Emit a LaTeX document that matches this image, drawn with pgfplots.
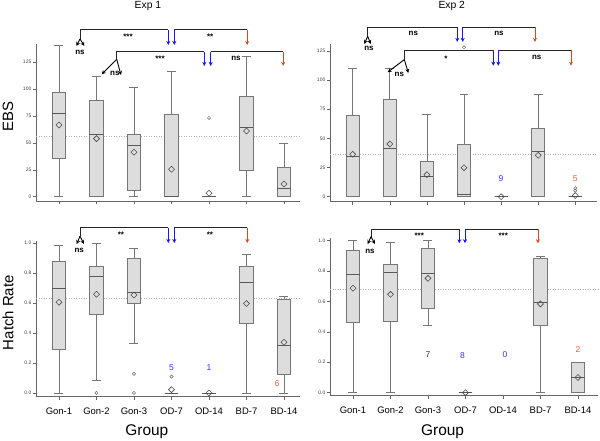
\documentclass[border=0pt]{standalone}
\usepackage{fontspec}
\setmainfont{Liberation Sans}
\usepackage{pgfplots}
\pgfplotsset{compat=1.18}
\usepgfplotslibrary{statistics}
\usetikzlibrary{arrows.meta}

\definecolor{boxfill}{RGB}{221,221,221}
\definecolor{boxline}{RGB}{118,118,118}
\definecolor{sigblue}{RGB}{20,20,255}
\definecolor{sigred}{RGB}{220,70,25}
\definecolor{numblue}{RGB}{50,50,255}
\definecolor{numred}{RGB}{235,90,50}

% box: position, lower whisker, lower quartile, median, upper quartile, upper whisker
\newcommand{\bx}[6]{\addplot[bxs, boxplot prepared={draw direction=y, draw position=#1,
  lower whisker=#2, lower quartile=#3, median=#4, upper quartile=#5, upper whisker=#6}]
  coordinates {};}

\pgfplotsset{
  panel/.style={
    scale only axis, clip=false,
    axis x line=bottom, axis y line=left,
    axis line style={-, black!60, line width=0.7bp},
    xtick={1,...,7}, xticklabels={{},{},{},{},{},{},{}},
    tick align=outside, major tick length=3bp,
    tick style={black!60, line width=0.6bp},
    yticklabel style={font=\fontsize{5}{6}\selectfont, black!75, inner sep=1.5bp},
    /pgf/number format/assume math mode=true,
    ylabel style={font=\fontsize{15}{18}\selectfont, at={(axis description cs:-0.106,0.54)}, anchor=center},
    boxplot/box extend=0.355, boxplot/whisker extend=0.24,
    boxplot/every box/.style={draw=boxline, fill=boxfill, line width=0.75bp},
    boxplot/every whisker/.style={draw=boxline, line width=0.7bp},
    boxplot/every median/.style={draw=black!65, line width=0.7bp},
  },
  bottompanel/.style={
    xticklabels={Gon-1,Gon-2,Gon-3,OD-7,OD-14,BD-7,BD-14},
    xticklabel style={font=\fontsize{9.5}{11}\selectfont, yshift=-5bp},
    xlabel={Group},
    xlabel style={font=\fontsize{15.5}{18}\selectfont, at={(axis description cs:0.42,-0.227)}, anchor=center},
    ytick={0,0.2,0.4,0.6,0.8,1},
    yticklabel style={/pgf/number format/fixed, /pgf/number format/fixed zerofill, /pgf/number format/precision=1},
  },
  bxs/.style={draw=boxline, line width=0.7bp, mark=none},
  means/.style={only marks, mark=square, mark size=2.1bp,
    mark options={rotate=45, draw=black!70, fill=none, line width=0.6bp}},
  outl/.style={only marks, mark=o, mark size=1.6bp, mark options={draw=black!60, line width=0.5bp}},
  refline/.style={black!30, dash pattern=on 0.7bp off 1.8bp, line width=0.5bp},
}
\tikzset{
  sig/.style={line width=0.9bp, black!85},
  arr/.style={-{Stealth[length=4bp,width=4bp]}, line width=0.9bp},
  lab/.style={font=\bfseries\fontsize{8}{9.6}\selectfont, inner sep=0},
  num/.style={font=\fontsize{8.5}{10}\selectfont, inner sep=0},
  ttl/.style={font=\fontsize{10.4}{12}\selectfont, inner sep=0},
}

\begin{document}
\begin{tikzpicture}
\path[use as bounding box] (0,0) rectangle (600bp,441bp);

% ---------------- EBS, Exp 1
\begin{axis}[panel, at={(36bp,240bp)}, anchor=south west,
  width=264bp, height=157bp,
  xmin=0.387, xmax=7.427, ymin=-4, ymax=142,
  ytick={0,25,...,125}, ylabel={EBS}]
\addplot[refline] coordinates {(0.387,56.5) (7.427,56.5)};
\bx{1}{0}{36}{77.9}{97.1}{140.5}
\bx{2}{0}{0}{58.3}{89.3}{112}
\bx{3}{0}{5.6}{48.1}{57.7}{101.8}
\bx{4}{0}{0}{0}{76.7}{116.3}
\bx{5}{0}{0}{0}{0}{0}
\bx{6}{0}{24.6}{64.8}{93}{130.2}
\bx{7}{0}{0}{7.4}{27.3}{49.7}
\addplot[outl] coordinates {(5,73.2)};
\addplot[means] coordinates {(1,66.7) (2,54) (3,41.3) (4,25.5) (5,3.2) (6,61.1) (7,11.8)};
\node[ttl] at (axis description cs:0.424,1.242) {Exp 1};
% Gon-1 vs OD-7, OD-7 vs BD-7
\draw[sig] (1.56,146.7) -- (1.56,155.1) -- (3.915,155.1);
\draw[arr, black] (1.56,146.7) -- (1.467,140.2);
\draw[arr, black] (1.56,146.7) -- (1.675,140.2);
\draw[arr, sigblue] (3.915,155.1) -- (3.915,141.1);
\draw[sig] (4.075,155.1) -- (6.02,155.1);
\draw[arr, sigblue] (4.075,155.1) -- (4.075,141.1);
\draw[arr, sigred] (6.02,155.1) -- (6.02,141.1);
\node[lab] at (1.56,134.3) {ns};
\node[lab] at (2.84,148.5) {***};
\node[lab] at (5.03,148.5) {**};
% Gon-2 vs OD-14, OD-14 vs BD-14
\draw[sig] (2.539,127.8) -- (2.539,134.9) -- (4.875,134.9);
\draw[arr, black] (2.539,127.8) -- (2.139,113.9);
\draw[arr, black] (2.539,127.8) -- (2.653,113.2);
\draw[arr, sigblue] (4.875,134.9) -- (4.875,121.6);
\draw[sig] (5.045,134.9) -- (6.98,134.9);
\draw[arr, sigblue] (5.045,134.9) -- (5.045,121.6);
\draw[arr, sigred] (6.98,134.9) -- (6.98,121.6);
\node[lab] at (2.49,114.8) {ns};
\node[lab] at (3.693,128.4) {***};
\node[lab] at (5.72,128.7) {ns};
\end{axis}

% ---------------- EBS, Exp 2
\begin{axis}[panel, at={(330bp,239.3bp)}, anchor=south west,
  width=267bp, height=157.7bp,
  xmin=0.388, xmax=7.585, ymin=-4.3, ymax=131,
  ytick={0,25,...,125}]
\addplot[refline] coordinates {(0.388,36.4) (7.585,36.4)};
\bx{1}{0}{0}{34.3}{69.5}{110.2}
\bx{2}{0}{0}{41.8}{83.6}{110.2}
\bx{3}{0}{0}{17.2}{30}{70.4}
\bx{4}{0}{0}{2.3}{45.2}{88.1}
\bx{5}{0}{0}{0}{0}{0}
\bx{6}{0}{0}{39}{59}{88.1}
\bx{7}{0}{0}{0}{0}{0}
\addplot[outl] coordinates {(4,128.2) (7,5.2) (7,7.3)};
\addplot[means] coordinates {(1,36.4) (2,45.2) (3,18.9) (4,24.9) (5,0) (6,35.5) (7,1)};
\node[num, numblue] at (5,15.8) {9};
\node[num, numred] at (7,15.8) {5};
\node[ttl] at (axis description cs:0.456,1.241) {Exp 2};
\draw[sig] (1.404,137.6) -- (1.404,145.4) -- (3.819,145.4);
\draw[arr, black] (1.404,137.6) -- (1.313,131);
\draw[arr, black] (1.404,137.6) -- (1.485,131);
\draw[arr, sigblue] (3.819,145.4) -- (3.819,132.8);
\draw[sig] (3.965,145.4) -- (5.914,145.4);
\draw[arr, sigblue] (3.965,145.4) -- (3.965,132.8);
\draw[arr, sigred] (5.914,145.4) -- (5.914,132.8);
\node[lab] at (1.439,127) {ns};
\node[lab] at (2.633,139.9) {ns};
\node[lab] at (4.943,139.9) {ns};
\draw[sig] (2.391,117.6) -- (2.391,125.6) -- (4.79,125.6);
\draw[arr, black] (2.391,117.6) -- (1.943,106.8);
\draw[arr, black] (2.391,117.6) -- (2.499,106.2);
\draw[arr, sigblue] (4.79,125.6) -- (4.79,112.4);
\draw[sig] (4.925,125.6) -- (6.884,125.6);
\draw[arr, sigblue] (4.925,125.6) -- (4.925,112.4);
\draw[arr, sigred] (6.884,125.6) -- (6.884,112.4);
\node[lab] at (2.256,105.3) {ns};
\node[lab] at (3.515,118.2) {*};
\node[lab] at (5.96,119.6) {ns};
\end{axis}

% ---------------- Hatch rate, Exp 1
\begin{axis}[panel, bottompanel, at={(36bp,44.3bp)}, anchor=south west,
  width=264bp, height=155.7bp,
  xmin=0.387, xmax=7.427, ymin=-0.025, ymax=1.013,
  ylabel={Hatch Rate}]
\addplot[refline] coordinates {(0.387,0.629) (7.427,0.629)};
\bx{1}{0}{0.291}{0.70}{0.878}{0.982}
\bx{2}{0.082}{0.527}{0.776}{0.845}{1.0}
\bx{3}{0.333}{0.594}{0.669}{0.898}{0.967}
\bx{4}{0}{0}{0}{0}{0}
\bx{5}{0}{0}{0}{0}{0}
\bx{6}{0}{0.462}{0.736}{0.842}{0.922}
\bx{7}{0}{0.124}{0.316}{0.624}{0.642}
\addplot[outl] coordinates {(2,0) (3,0.127) (3,0) (4,0.109)};
\addplot[means] coordinates {(1,0.605) (2,0.658) (3,0.653) (4,0.022) (5,0) (6,0.596) (7,0.338)};
\node[num, numblue] at (4,0.169) {5};
\node[num, numblue] at (5,0.169) {1};
\node[num, numred] at (6.82,0.065) {6};
\draw[sig] (1.56,1.0447) -- (1.56,1.1) -- (3.915,1.1);
\draw[arr, black] (1.56,1.0447) -- (1.472,0.993);
\draw[arr, black] (1.56,1.0447) -- (1.667,0.993);
\draw[arr, sigblue] (3.915,1.1) -- (3.915,1.0);
\draw[sig] (4.075,1.1) -- (6.021,1.1);
\draw[arr, sigblue] (4.075,1.1) -- (4.075,1.0);
\draw[arr, sigred] (6.021,1.1) -- (6.021,1.0);
\node[lab] at (1.541,0.951) {ns};
\node[lab] at (2.653,1.054) {**};
\node[lab] at (5.027,1.054) {**};
\end{axis}

% ---------------- Hatch rate, Exp 2
\begin{axis}[panel, bottompanel, at={(330bp,45.3bp)}, anchor=south west,
  width=268bp, height=157.4bp,
  xmin=0.387, xmax=7.534, ymin=-0.02, ymax=1.0155]
\addplot[refline] coordinates {(0.387,0.68) (7.534,0.68)};
\bx{1}{0}{0.463}{0.781}{0.934}{1.0}
\bx{2}{0}{0.472}{0.792}{0.845}{0.987}
\bx{3}{0.443}{0.553}{0.785}{0.947}{1.0}
\bx{4}{0}{0}{0}{0}{0}
\bx{6}{0}{0.441}{0.592}{0.882}{0.895}
\bx{7}{0}{0}{0.101}{0.2}{0.2}
\addplot[means] coordinates {(1,0.687) (2,0.647) (3,0.752) (4,0) (6,0.584) (7,0.1)};
\node[num, black!80] at (3,0.248) {7};
\node[num, numblue] at (3.92,0.243) {8};
\node[num, numblue] at (5.05,0.248) {0};
\node[num, numred] at (7,0.281) {2};
\draw[sig] (1.48,1.026) -- (1.48,1.077) -- (3.835,1.077);
\draw[arr, black] (1.48,1.026) -- (1.392,0.978);
\draw[arr, black] (1.48,1.026) -- (1.587,0.978);
\draw[arr, sigblue] (3.835,1.077) -- (3.835,0.983);
\draw[sig] (3.987,1.077) -- (5.933,1.077);
\draw[arr, sigblue] (3.987,1.077) -- (3.987,0.983);
\draw[arr, sigred] (5.933,1.077) -- (5.933,0.983);
\node[lab] at (1.453,0.932) {ns};
\node[lab] at (2.768,1.03) {***};
\node[lab] at (5.008,1.03) {***};
\end{axis}
\end{tikzpicture}
\end{document}
